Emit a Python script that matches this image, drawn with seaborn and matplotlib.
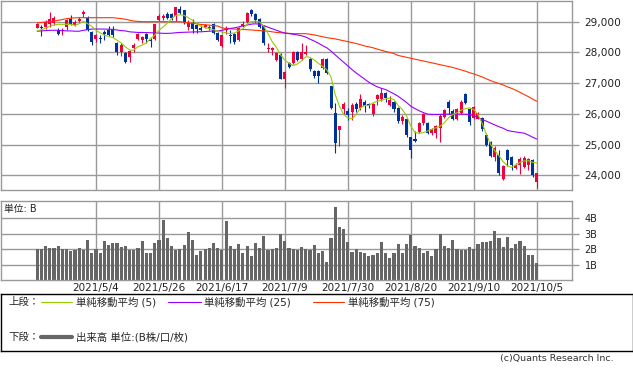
import numpy as np
import matplotlib
matplotlib.use("Agg")
import matplotlib.pyplot as plt
import seaborn as sns

# Tick labels for the date axis (every 15 sessions)
date_labels = ["2021/5/4", "2021/5/26", "2021/6/17", "2021/7/9",
               "2021/7/30", "2021/8/20", "2021/9/10", "2021/10/5"]
date_pos = [14, 29, 44, 59, 74, 89, 104, 119]

price_ticks = [24000, 25000, 26000, 27000, 28000, 29000]
vol_ticks = [1, 2, 3, 4]
vol_labels = ["1B", "2B", "3B", "4B"]

# OHLC
opens = [28810, 28830, 28830, 28910, 28960, 28740, 28700, 28830, 29090, 28880,
         29020, 29240, 29130, 28670, 28430, 28470, 28670, 28720, 28770, 28310,
         28020, 27970, 27860, 28130, 28450, 28420, 28610, 28410, 28450, 29060,
         29130, 29240, 29240, 29170, 29420, 29370, 28830, 28960, 28900, 28800,
         28830, 28780, 28940, 28630, 28220, 28720, 28580, 28610, 28400, 28850,
         28990, 29370, 29260, 29100, 28850, 28100, 28080, 27750, 27930, 27120,
         27640, 27640, 28000, 27780, 27940, 27800, 27400, 27400, 27500, 27790,
         26900, 26030, 25480, 26160, 26090, 26050, 26320, 26180, 26400, 26310,
         25980, 26470, 26490, 26690, 26300, 26400, 26190, 25780, 25820, 25240,
         25170, 25420, 25700, 25700, 25370, 25390, 25530, 25900, 26380, 26090,
         25840, 26030, 26630, 26160, 25870, 25840, 25870, 25320, 25070, 24590,
         24670, 23870, 24830, 24590, 24230, 24340, 24270, 24340, 24500, 23790]
highs = [28960, 28880, 29040, 29330, 29200, 28780, 28800, 29100, 29230, 29040,
         29140, 29390, 29170, 28690, 28610, 28560, 28740, 28850, 28850, 28340,
         28290, 28020, 28090, 28290, 28640, 28530, 28630, 28480, 28940, 29260,
         29260, 29330, 29290, 29490, 29500, 29390, 29040, 29100, 28960, 28880,
         28940, 28880, 28960, 28670, 28580, 28850, 28740, 28630, 28830, 29020,
         29310, 29400, 29280, 29130, 28880, 28300, 28160, 28020, 27980, 27400,
         27690, 28050, 28030, 28310, 28230, 27830, 27440, 27420, 27810, 27820,
         26920, 26350, 25610, 26370, 26200, 26340, 26370, 26650, 26440, 26340,
         26350, 26660, 26840, 26700, 26570, 26430, 26220, 25960, 25860, 25260,
         25450, 25740, 26020, 25720, 25530, 25640, 25980, 26170, 26450, 26160,
         26200, 26450, 26690, 26200, 26250, 26060, 25900, 25380, 25110, 24940,
         24830, 24340, 24860, 24640, 24400, 24590, 24620, 24560, 24530, 24080]
lows = [28780, 28530, 28770, 28830, 28880, 28560, 28560, 28740, 28880, 28850,
        29000, 29150, 28700, 28230, 28340, 28310, 28400, 28520, 28500, 27910,
        27880, 27670, 27700, 28020, 28420, 28310, 28310, 28190, 28420, 29020,
        29040, 29100, 29060, 29020, 29240, 28910, 28740, 28630, 28630, 28690,
        28780, 28740, 28610, 28380, 28190, 28610, 28310, 28270, 28380, 28830,
        28960, 29200, 28990, 28800, 28230, 28020, 27910, 27730, 27120, 26850,
        27480, 27610, 27730, 27760, 27910, 27400, 27180, 26990, 27460, 27310,
        26170, 24730, 24950, 25980, 25810, 25810, 26060, 26140, 26070, 26200,
        25930, 26300, 26420, 26400, 26270, 26070, 25690, 25670, 25260, 24550,
        25070, 25380, 25640, 25340, 25310, 25200, 25090, 25870, 26000, 25810,
        25810, 26010, 26310, 25650, 25840, 25820, 25430, 24960, 24590, 24450,
        24020, 23850, 24310, 24180, 24200, 24050, 24230, 24180, 23940, 23580]
closes = [28930, 28780, 28990, 29100, 29130, 28610, 28740, 29060, 28910, 28990,
          29100, 29300, 28720, 28340, 28560, 28440, 28610, 28580, 28580, 28000,
          28240, 27700, 28050, 28240, 28610, 28510, 28450, 28380, 28910, 29180,
          29200, 29130, 29130, 29470, 29280, 28990, 28970, 28770, 28770, 28740,
          28880, 28830, 28630, 28400, 28560, 28810, 28540, 28330, 28800, 28910,
          29290, 29240, 29040, 28830, 28310, 28150, 28130, 27990, 27150, 27370,
          27530, 28020, 27760, 28020, 28020, 27460, 27220, 27220, 27790, 27330,
          26190, 25050, 25590, 26330, 25950, 26300, 26170, 26470, 26250, 26240,
          26310, 26610, 26690, 26510, 26460, 26170, 25760, 25890, 25320, 24830,
          25100, 25710, 25980, 25390, 25500, 25590, 25920, 26140, 26190, 25840,
          26160, 26380, 26340, 25730, 26230, 26030, 25490, 25000, 24620, 24890,
          24070, 24290, 24510, 24340, 24340, 24530, 24560, 24530, 24020, 24060]

# moving averages as drawn on the chart
ma5 = [28700, 28740, 28785, 28850, 28890, 28915, 28915, 28915, 28915, 28880,
       28935, 29010, 28935, 28850, 28720, 28635, 28560, 28525, 28485, 28400,
       28310, 28185, 28075, 28075, 28185, 28235, 28310, 28450, 28560, 28720,
       28830, 28955, 29100, 29205, 29225, 29205, 29130, 29045, 28935, 28850,
       28805, 28775, 28740, 28700, 28665, 28635, 28610, 28635, 28700, 28775,
       28915, 29000, 29020, 28990, 28850, 28610, 28345, 28160, 27915, 27750,
       27645, 27570, 27625, 27730, 27860, 27840, 27750, 27645, 27540, 27430,
       27195, 26625, 26250, 25980, 25870, 25840, 25980, 26195, 26270, 26270,
       26355, 26410, 26440, 26485, 26515, 26460, 26270, 26140, 25925, 25600,
       25390, 25365, 25390, 25440, 25495, 25550, 25600, 25710, 25870, 25980,
       26030, 26120, 26170, 26195, 26140, 25980, 25690, 25335, 25010, 24800,
       24635, 24440, 24310, 24260, 24335, 24420, 24465, 24475, 24420, 24400]
ma25 = [28690, 28700, 28710, 28720, 28720, 28720, 28710, 28700, 28700, 28690,
        28690, 28720, 28740, 28760, 28760, 28760, 28760, 28755, 28750, 28730,
        28710, 28700, 28670, 28660, 28650, 28650, 28645, 28640, 28640, 28630,
        28620, 28620, 28625, 28640, 28650, 28655, 28660, 28665, 28670, 28670,
        28680, 28690, 28695, 28700, 28720, 28750, 28780, 28800, 28830, 28860,
        28890, 28920, 28930, 28920, 28870, 28820, 28770, 28720, 28670, 28630,
        28610, 28590, 28570, 28540, 28500, 28430, 28370, 28300, 28220, 28150,
        28040, 27920, 27800, 27680, 27560, 27440, 27330, 27230, 27130, 27030,
        26950, 26880, 26830, 26790, 26720, 26650, 26570, 26470, 26370, 26250,
        26170, 26100, 26040, 25990, 25980, 25980, 25980, 25990, 25990, 25990,
        25990, 25990, 25985, 25980, 25940, 25880, 25820, 25760, 25700, 25640,
        25580, 25530, 25460, 25430, 25410, 25390, 25370, 25310, 25240, 25180]
ma75 = [28960, 28975, 28990, 29005, 29020, 29045, 29070, 29100, 29115, 29125,
        29130, 29130, 29130, 29130, 29130, 29130, 29130, 29130, 29130, 29115,
        29100, 29080, 29050, 29020, 29010, 29000, 29000, 29000, 29000, 29000,
        29000, 29000, 29000, 29000, 29000, 28980, 28960, 28950, 28930, 28910,
        28900, 28890, 28870, 28860, 28800, 28780, 28770, 28760, 28750, 28745,
        28740, 28730, 28720, 28710, 28700, 28690, 28670, 28650, 28640, 28630,
        28620, 28610, 28610, 28610, 28610, 28590, 28570, 28540, 28510, 28480,
        28460, 28440, 28410, 28380, 28350, 28320, 28290, 28250, 28210, 28180,
        28150, 28110, 28070, 28030, 28000, 27960, 27900, 27870, 27840, 27810,
        27780, 27750, 27720, 27690, 27660, 27630, 27600, 27570, 27540, 27510,
        27470, 27430, 27390, 27340, 27300, 27250, 27200, 27140, 27080, 27030,
        26990, 26940, 26880, 26830, 26770, 26700, 26630, 26560, 26480, 26410]

# volume in billions of shares
volume = [2.0, 2.0, 2.2, 2.1, 2.1, 2.2, 2.0, 2.0, 1.9, 1.95,
          2.1, 1.95, 2.6, 1.8, 2.0, 1.8, 2.55, 2.3, 2.4, 2.4,
          2.15, 2.2, 1.95, 1.95, 2.1, 2.55, 1.75, 1.8, 2.4, 2.6,
          3.85, 2.7, 2.2, 1.95, 2.0, 2.3, 3.1, 2.6, 1.65, 1.9,
          2.0, 2.1, 2.4, 2.1, 1.95, 3.8, 2.2, 2.0, 2.35, 1.8,
          2.2, 1.6, 2.4, 2.1, 2.85, 1.95, 2.0, 2.1, 3.0, 2.55,
          2.1, 2.05, 1.95, 2.15, 2.05, 1.95, 2.3, 1.75, 1.9, 1.2,
          2.7, 4.65, 3.4, 3.3, 2.5, 1.85, 2.05, 1.85, 1.75, 1.6,
          1.65, 1.8, 2.5, 1.75, 1.45, 1.75, 2.35, 1.8, 2.35, 2.9,
          2.2, 2.1, 1.8, 1.9, 1.6, 2.05, 3.0, 2.2, 2.1, 2.6,
          2.0, 1.95, 1.95, 2.15, 2.05, 2.35, 2.5, 2.5, 2.55, 3.15,
          2.7, 2.15, 2.8, 2.1, 2.35, 2.55, 2.2, 1.65, 1.65, 1.15]

RED = "#f0003c"
BLUE = "#003399"
GREEN = "#99cc00"
PURPLE = "#9900ff"
ORANGE = "#ff3300"
GRID = "#999999"
VOL = "#666666"

W, H = 633, 374


def box(x0, y0, x1, y1):
    # pixel box (top-left origin) -> figure fraction rect
    return [x0 / W, 1 - y1 / H, (x1 - x0) / W, (y1 - y0) / H]


def style_axis(ax):
    for sp in ax.spines.values():
        sp.set_color(GRID)
        sp.set_linewidth(1)
    ax.grid(True, color=GRID, linewidth=1)
    ax.set_axisbelow(True)
    ax.yaxis.tick_right()
    ax.tick_params(axis="y", which="both", direction="out", length=5, width=1,
                   color=GRID, pad=4, left=False, right=True)
    ax.tick_params(axis="x", length=0)
    ax.set_xlabel("")
    ax.set_ylabel("")


def main():
    sns.set_style("white")
    plt.rcParams["font.family"] = ["DejaVu Sans", "Noto Sans CJK JP"]

    fig = plt.figure(figsize=(W / 100, H / 100), dpi=100)
    idx = np.arange(len(opens))
    o = np.array(opens, dtype=float)
    c = np.array(closes, dtype=float)
    colors = np.where(c >= o, RED, BLUE)

    # price panel
    ax1 = fig.add_axes(box(0.5, 0.5, 572, 190))
    ax1.vlines(idx, lows, highs, colors=colors, linewidth=0.8, zorder=2)
    body = np.maximum(np.abs(c - o), 25)
    ax1.bar(idx, body, bottom=np.minimum(o, c), width=0.72, color=colors,
            linewidth=0, zorder=2)
    sns.lineplot(x=idx, y=ma75, ax=ax1, color=ORANGE, linewidth=0.8, zorder=3)
    sns.lineplot(x=idx, y=ma25, ax=ax1, color=PURPLE, linewidth=0.8, zorder=3)
    sns.lineplot(x=idx, y=ma5, ax=ax1, color=GREEN, linewidth=0.8, zorder=3)
    style_axis(ax1)
    ax1.set_xlim(-8.74, 127.4)
    ax1.set_ylim(23520, 29690)
    ax1.set_xticks(date_pos)
    ax1.set_xticklabels([])
    ax1.set_yticks(price_ticks)
    ax1.set_yticklabels([f"{v:,}" for v in price_ticks], fontsize=7.6, color="#222222")

    # volume panel
    ax2 = fig.add_axes(box(0.5, 201, 572, 280))
    sns.barplot(x=idx, y=volume, ax=ax2, native_scale=True, color=VOL,
                saturation=1, width=0.75, linewidth=0, errorbar=None, zorder=2)
    style_axis(ax2)
    ax2.set_xlim(-8.74, 127.4)
    ax2.set_ylim(0.08, 5.05)
    ax2.set_yticks(vol_ticks)
    ax2.set_yticklabels(vol_labels, fontsize=7, color="#222222")
    ax2.set_xticks(date_pos)
    ax2.set_xticklabels(date_labels, fontsize=7.5, color="#222222")
    ax2.tick_params(axis="x", pad=2)
    fig.text(4 / W, 1 - 209 / H, "単位: B", fontsize=7, va="center", color="#222222")

    # legend box
    ax3 = fig.add_axes(box(0.5, 294, 632.5, 351))
    ax3.set_xlim(0, 632)
    ax3.set_ylim(57, 0)
    ax3.set_xticks([])
    ax3.set_yticks([])
    for sp in ax3.spines.values():
        sp.set_color("black")
        sp.set_linewidth(1)
    r1, r2 = 8, 43
    ax3.text(8, r1, "上段：", fontsize=7.5, va="center")
    ax3.plot([40, 71], [r1, r1], color=GREEN, linewidth=0.8)
    ax3.text(75, r1, "単純移動平均 (5)", fontsize=7.5, va="center")
    ax3.plot([167, 200], [r1, r1], color=PURPLE, linewidth=0.8)
    ax3.text(203, r1, "単純移動平均 (25)", fontsize=7.5, va="center")
    ax3.plot([312, 343], [r1, r1], color=ORANGE, linewidth=0.8)
    ax3.text(347, r1, "単純移動平均 (75)", fontsize=7.5, va="center")
    ax3.text(8, r2, "下段：", fontsize=7.5, va="center")
    ax3.plot([40, 71], [r2, r2], color=VOL, linewidth=3)
    ax3.text(75, r2, "出来高 単位:(B株/口/枚)", fontsize=7.5, va="center")

    fig.text(614 / W, 1 - 358 / H, "(c)Quants Research Inc.", fontsize=6.8,
             ha="right", va="center", color="#333333")

    fig.savefig("out.png", dpi=100)


if __name__ == "__main__":
    main()
